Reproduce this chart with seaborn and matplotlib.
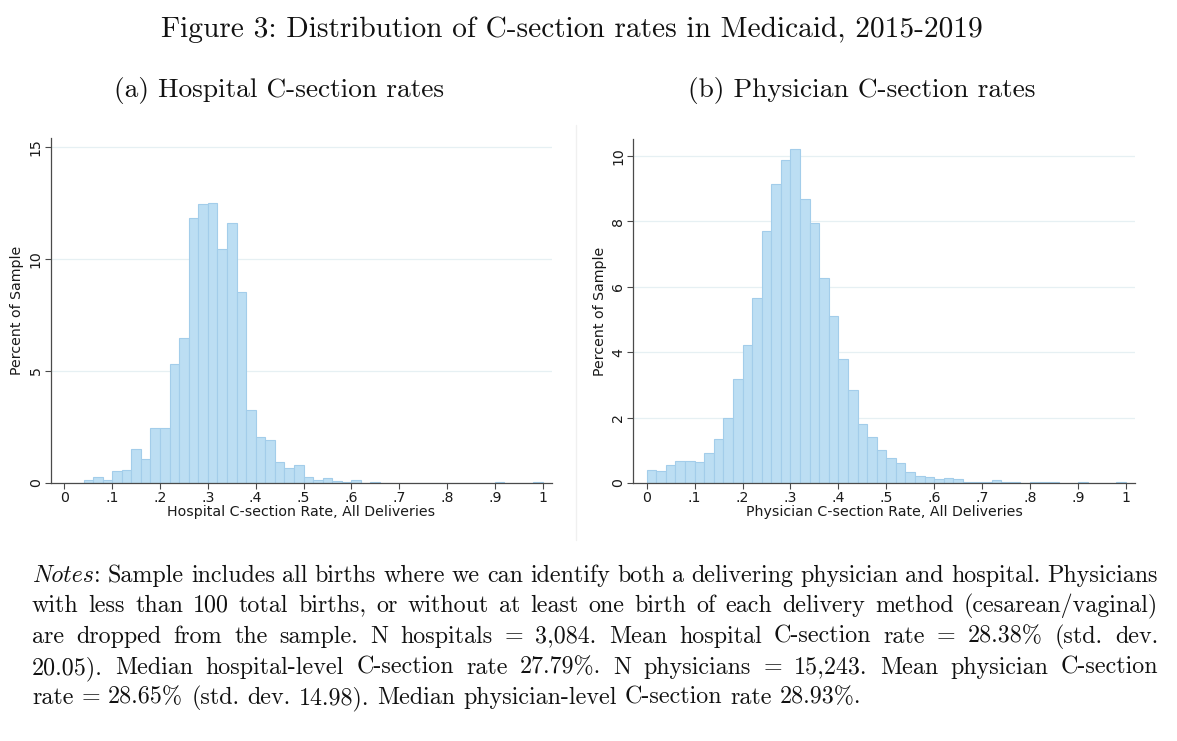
import numpy as np
import pandas as pd
import matplotlib
matplotlib.use("Agg")
import matplotlib.pyplot as plt
import seaborn as sns
from matplotlib.font_manager import FontProperties

# ---------------- data ----------------
bin_edges = [round(0.02 * i, 2) for i in range(51)]
bin_left = bin_edges[:-1]

hospital_pct = [0.02, 0.02, 0.13, 0.28, 0.13, 0.53, 0.60, 1.52, 1.07, 2.44,
                2.44, 5.33, 6.47, 11.85, 12.44, 12.51, 10.45, 11.62, 8.51, 3.26,
                2.04, 1.93, 0.95, 0.68, 0.82, 0.27, 0.13, 0.24, 0.10, 0.06,
                0.12, 0.02, 0.03, 0.02, 0.02, 0.02, 0.02, 0.02, 0.02, 0.02,
                0.02, 0.02, 0.02, 0.01, 0.01, 0.03, 0.01, 0.01, 0.01, 0.03]

physician_pct = [0.41, 0.38, 0.56, 0.67, 0.66, 0.63, 0.92, 1.34, 1.98, 3.17,
                 4.22, 5.67, 7.72, 9.13, 9.89, 10.22, 8.69, 7.96, 6.26, 5.10,
                 3.79, 2.84, 1.80, 1.42, 1.02, 0.77, 0.62, 0.35, 0.22, 0.19,
                 0.11, 0.15, 0.12, 0.03, 0.02, 0.03, 0.10, 0.02, 0.02, 0.01,
                 0.02, 0.02, 0.02, 0.01, 0.01, 0.02, 0.01, 0.01, 0.01, 0.02]

x_ticks = [0, .1, .2, .3, .4, .5, .6, .7, .8, .9, 1]
x_ticklabels = ["0", ".1", ".2", ".3", ".4", ".5", ".6", ".7", ".8", ".9", "1"]
hosp_yticks = [0, 5, 10, 15]
phys_yticks = [0, 2, 4, 6, 8, 10]

fig_title = "Figure 3: Distribution of C-section rates in Medicaid, 2015-2019"
panel_titles = ["(a) Hospital C-section rates", "(b) Physician C-section rates"]
x_labels = ["Hospital C-section Rate, All Deliveries",
            "Physician C-section Rate, All Deliveries"]
y_label = "Percent of Sample"

notes_lines = [
    "Sample includes all births where we can identify both a delivering physician and hospital. Physicians",
    "with less than 100 total births, or without at least one birth of each delivery method (cesarean/vaginal)",
    "are dropped from the sample. N hospitals = 3,084. Mean hospital C-section rate = 28.38% (std. dev.",
    "20.05). Median hospital-level C-section rate 27.79%. N physicians = 15,243. Mean physician C-section",
    "rate = 28.65% (std. dev. 14.98). Median physician-level C-section rate 28.93%.",
]

# ---------------- style ----------------
sns.set_style("ticks")
plt.rcParams["font.family"] = ["DejaVu Sans"]

W, H = 1177, 741
fig = plt.figure(figsize=(W / 100, H / 100), dpi=100)
fig.patch.set_facecolor("white")

FILL = "#bcdef3"
EDGE = "#a3cdea"
AXC = "#4a4a4a"
GRID = "#e6f0f3"
LABFS = 10.2

def px_axes(x0, x1, ytop, ybot):
    return [x0 / W, 1 - ybot / H, (x1 - x0) / W, (ybot - ytop) / H]

ax_a = fig.add_axes(px_axes(51, 551.7, 138, 483))
ax_b = fig.add_axes(px_axes(633.3, 1135, 139, 483))

panels = [
    (ax_a, hospital_pct, hosp_yticks, (0, 15.4), x_labels[0]),
    (ax_b, physician_pct, phys_yticks, (0, 10.52), x_labels[1]),
]

for ax, vals, yt, ylim, xl in panels:
    df = pd.DataFrame({"left": bin_left, "pct": vals})
    df["center"] = df["left"] + 0.01
    sns.histplot(data=df, x="center", weights="pct", bins=bin_edges, ax=ax,
                 stat="count", color=FILL, edgecolor=EDGE, linewidth=0.8,
                 alpha=1.0, zorder=2)
    ax.set_xlim(-0.028, 1.019)
    ax.set_ylim(*ylim)
    ax.set_xticks(x_ticks)
    ax.set_xticklabels(x_ticklabels)
    ax.set_yticks(yt)
    ax.set_yticklabels([str(v) for v in yt], rotation=90, va="center")
    for v in yt[1:]:
        ax.axhline(v, color=GRID, lw=0.9, zorder=1)
    ax.set_xlabel(xl, fontsize=LABFS, color="#1a1a1a", labelpad=0)
    ax.set_ylabel(y_label, fontsize=LABFS, color="#1a1a1a", labelpad=3)
    ax.tick_params(axis="both", labelsize=LABFS, colors=AXC, labelcolor="#1a1a1a",
                   length=4, width=0.8, pad=2, direction="out")
    sns.despine(ax=ax)
    for s in ["left", "bottom"]:
        ax.spines[s].set_color(AXC)
        ax.spines[s].set_linewidth(0.9)
    ax.set_facecolor("white")

# faint frame of right panel image
fig.add_artist(plt.Line2D([576 / W, 576 / W], [1 - 125 / H, 1 - 540 / H],
                          color="#f0f0f0", lw=1.0, transform=fig.transFigure))

# ---------------- titles ----------------
cm = FontProperties(family="cmr10")
fig.text(572 / W, 1 - 30 / H, fig_title, fontproperties=cm, fontsize=21.2,
         ha="center", va="center", color="#111111")
fig.text(279 / W, 1 - 91 / H, panel_titles[0], fontproperties=cm, fontsize=19.7,
         ha="center", va="center", color="#111111")
fig.text(862 / W, 1 - 91 / H, panel_titles[1], fontproperties=cm, fontsize=19.7,
         ha="center", va="center", color="#111111")

# ---------------- notes (justified) ----------------
NOTE_FS = 17.3
rom = FontProperties(family="cmr10", size=NOTE_FS)
ita = FontProperties(family="cmmi10", size=NOTE_FS)
renderer = fig.canvas.get_renderer()

def width_of(s, fp):
    t = fig.text(0, 0, s, fontproperties=fp)
    w = t.get_window_extent(renderer).width
    t.remove()
    return w

space_w = width_of("a b", rom) - width_of("ab", rom)
x_left, x_right = 32, 1158
line_y = [573, 603, 634, 665, 695]

for li, line in enumerate(notes_lines):
    words = [[(w, rom)] for w in line.split(" ")]
    if li == 0:
        words = [[("Notes", ita), (":", rom)]] + words
    widths = [sum(width_of(s, fp) for s, fp in wd) for wd in words]
    last = li == len(notes_lines) - 1
    if last or len(words) < 2:
        gap = space_w * 1.0
    else:
        gap = (x_right - x_left - sum(widths)) / (len(words) - 1)
    x = x_left
    for wd, wdw in zip(words, widths):
        xx = x
        for s, fp in wd:
            fig.text(xx / W, 1 - line_y[li] / H, s, fontproperties=fp,
                     ha="left", va="center_baseline", color="#111111")
            xx += width_of(s, fp)
        x += wdw + gap

fig.savefig("out.png", dpi=100, facecolor="white")
